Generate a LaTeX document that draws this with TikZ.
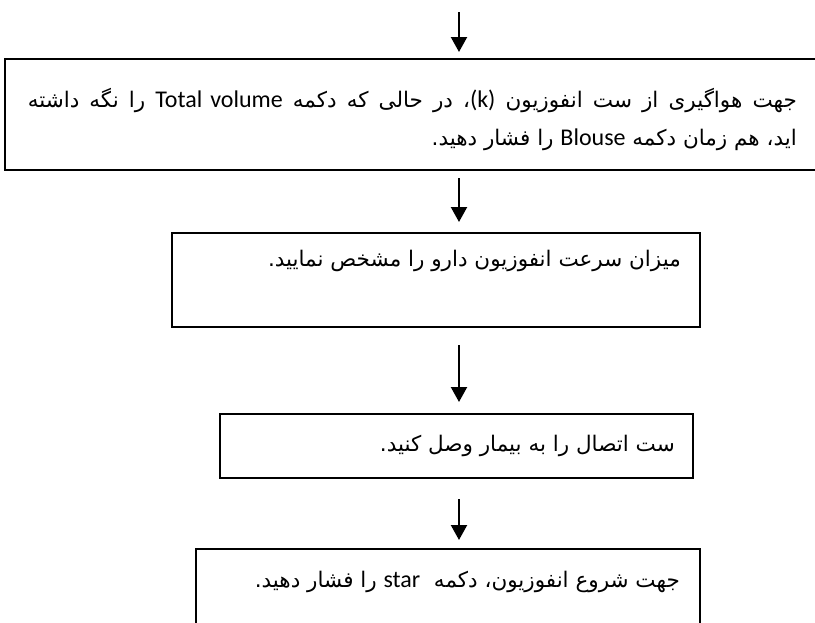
\documentclass[tikz,border=0pt]{standalone}
\usepackage{fontspec}
\setmainfont{Carlito}
\newfontfamily\farsi[Script=Arabic]{DejaVu Sans}
\TeXXeTstate=1
\usetikzlibrary{arrows.meta}
\usetikzlibrary{positioning}
\newcommand{\lat}[1]{\beginL{\rmfamily\fontsize{24}{38}\selectfont #1}\endL}
\tikzset{
    box/.style={
        draw,
        rectangle,
        line width=1.6pt,
        inner sep=0pt,
        outer sep=0pt,
        anchor=north west
    },
    txt/.style={
        anchor=east,
        inner sep=0pt,
        font=\fontsize{21.5}{38}\selectfont\farsi,
        align=right
    },
    flow/.style={
        draw,
        -{Triangle[length=15pt, width=16pt]},
        line width=2.2pt
    }
}

\begin{document}
\begin{tikzpicture}[x=1pt,y=-1pt]
  \useasboundingbox (0,0) rectangle (815,622);

  % Boxes
  \node[box, minimum width=813, minimum height=111] (b1) at (5,59) {};
  \node[box, minimum width=528, minimum height=94] (b2) at (172,233) {};
  \node[box, minimum width=473, minimum height=64] (b3) at (220,414) {};
  \node[box, minimum width=504, minimum height=90] (b4) at (196,549) {};

  % Texts
  \node[txt] (t1) at (797,119) {\hbox to 769pt{\beginR جهت هواگیری از ست انفوزیون \lat{(k)}، در حالی که دکمه \lat{Total volume} را نگه داشته\endR}\\
    \beginR اید، هم زمان دکمه \lat{Blouse} را فشار دهید.\endR};
  \node[txt] (t2) at (681,261) {\beginR میزان سرعت انفوزیون دارو را مشخص نمایید.\endR};
  \node[txt] (t3) at (675,446) {\beginR ست اتصال را به بیمار وصل کنید.\endR};
  \node[txt] (t4) at (680,582) {\beginR جهت شروع انفوزیون، دکمه \ \lat{star} را فشار دهید.\endR};

  % Arrows
  \coordinate (ax) at (459,0);
  \coordinate (a0) at (459,12);
  \draw[flow, shorten >=7pt] (a0) -- (b1.north -| ax);
  \draw[flow, shorten <=8pt, shorten >=11pt] (b1.south -| ax) -- (b2.north -| ax);
  \draw[flow, shorten <=18pt, shorten >=12pt] (b2.south -| ax) -- (b3.north -| ax);
  \draw[flow, shorten <=21pt, shorten >=9pt] (b3.south -| ax) -- (b4.north -| ax);
\end{tikzpicture}
\end{document}
